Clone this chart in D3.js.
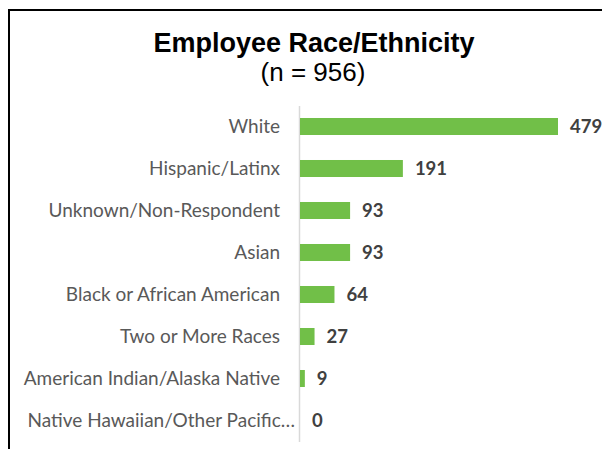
<!DOCTYPE html>
<html>
<head>
<meta charset="utf-8">
<script src="https://cdn.jsdelivr.net/npm/d3@7"></script>
<style>
  html, body { margin: 0; padding: 0; background: #fff; }
  svg { display: block; }
</style>
</head>
<body>
<svg id="chart" width="602" height="449"></svg>
<script>
// Headcount by race/ethnicity
const categories = [
  "White",
  "Hispanic/Latinx",
  "Unknown/Non-Respondent",
  "Asian",
  "Black or African American",
  "Two or More Races",
  "American Indian/Alaska Native",
  "Native Hawaiian/Other Pacific…"
];
const counts = [479, 191, 93, 93, 64, 27, 9, 0];
const titleText = "Employee Race/Ethnicity";
const subtitleText = "(n = 956)";

const svg = d3.select("#chart");

// Frame around the chart (runs past the right and bottom edges)
svg.append("rect")
  .attr("x", 9).attr("y", 10)
  .attr("width", 700).attr("height", 600)
  .attr("fill", "none")
  .attr("stroke", "#000")
  .attr("stroke-width", 2);

// Title block
svg.append("text")
  .attr("x", 314).attr("y", 52)
  .attr("text-anchor", "middle")
  .attr("font-family", "'Liberation Sans', Arial, sans-serif")
  .attr("font-weight", "bold")
  .attr("font-size", 27)
  .attr("fill", "#000")
  .text(titleText);

svg.append("text")
  .attr("x", 313).attr("y", 81)
  .attr("text-anchor", "middle")
  .attr("font-family", "'Liberation Sans', Arial, sans-serif")
  .attr("font-size", 26)
  .attr("fill", "#000")
  .text(subtitleText);

// Scales
const y = d3.scaleBand()
  .domain(categories)
  .range([105.5, 441.5])
  .paddingInner(0.595)
  .paddingOuter(0.2975);

const x = d3.scaleLinear()
  .domain([0, 479])
  .range([300, 558]);

// Category axis
const axis = svg.append("g")
  .attr("transform", `translate(${x(0) - 1},0)`)
  .call(d3.axisLeft(y).tickSizeInner(0).tickSizeOuter(0).tickPadding(19));

axis.select(".domain")
  .attr("stroke", "#D9D9D9")
  .attr("stroke-width", 1.5);

axis.selectAll(".tick text")
  .attr("font-family", "Lato, 'Open Sans', sans-serif")
  .attr("font-size", 19)
  .attr("fill", "#595959");

// A shortened label runs right up to the axis line
axis.selectAll(".tick text")
  .filter(d => d.endsWith("…"))
  .attr("dx", 15);

// Bars
const data = categories.map((c, i) => ({ category: c, value: counts[i] }));

svg.append("g")
  .selectAll("rect")
  .data(data)
  .join("rect")
  .attr("x", x(0))
  .attr("y", d => y(d.category))
  .attr("width", d => x(d.value) - x(0))
  .attr("height", y.bandwidth())
  .attr("fill", "#71BF48");

// Value labels
svg.append("g")
  .selectAll("text")
  .data(data)
  .join("text")
  .attr("x", d => x(d.value) + 12)
  .attr("y", d => y(d.category) + y.bandwidth() / 2)
  .attr("dy", "0.36em")
  .attr("font-family", "Lato, 'Open Sans', sans-serif")
  .attr("font-weight", "bold")
  .attr("font-size", 18.5)
  .attr("fill", "#404040")
  .text(d => d.value);
</script>
</body>
</html>
